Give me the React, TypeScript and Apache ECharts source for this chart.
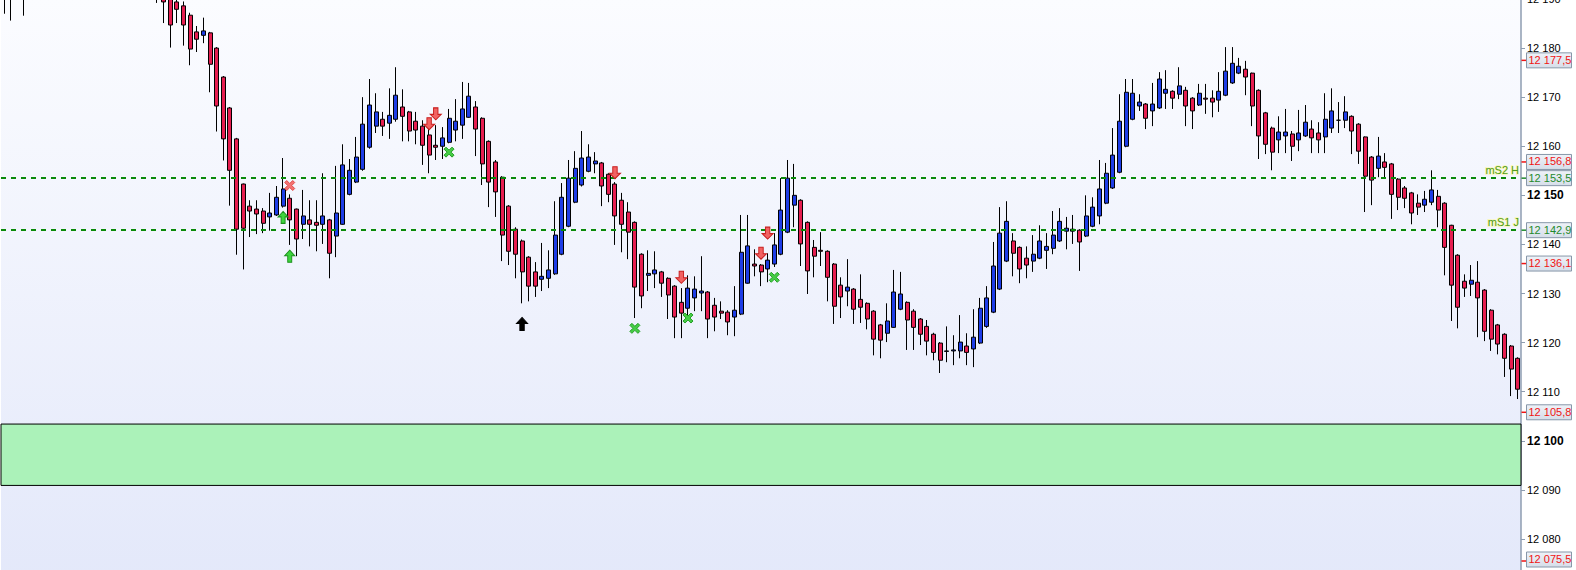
import React, { useEffect, useRef } from "react";
import * as echarts from "echarts";

// [open, close, low, high] per bar
const candleValues: number[][] = [
  [12196, 12199, 12187.0, 12204], [12199, 12194, 12185.6, 12203], [12194, 12198, 12191.5, 12202], [12198, 12195, 12186.6, 12201],
  [12195, 12200, 12192, 12205], [12200, 12204, 12196, 12208], [12204, 12207, 12200, 12211], [12207, 12203, 12199, 12210],
  [12203, 12206, 12199, 12209], [12206, 12210, 12203, 12214], [12210, 12208, 12204, 12213], [12208, 12212, 12205, 12216],
  [12212, 12209, 12205, 12215], [12209, 12206, 12202, 12212], [12206, 12208, 12203, 12211], [12208, 12204, 12200, 12210],
  [12204, 12201, 12197, 12207], [12201, 12203, 12198, 12206], [12203, 12199, 12196, 12205], [12199, 12200, 12195, 12203],
  [12200, 12197, 12193, 12202], [12197, 12198, 12194, 12201], [12198, 12195, 12191, 12200], [12195, 12193, 12189.2, 12197],
  [12192.5, 12189.4, 12185.1, 12195], [12190.8, 12184.7, 12180.1, 12193.5], [12189.4, 12187.9, 12185.1, 12191.5], [12188.6, 12184.7, 12180.5, 12189.5],
  [12186.7, 12179.8, 12176.5, 12187.2], [12183.3, 12181.8, 12179.2, 12184.5], [12182.6, 12183.5, 12181.0, 12186.2], [12183.1, 12176.7, 12171.0, 12183.3],
  [12180.0, 12168.2, 12163.0, 12180.2], [12174.1, 12161.5, 12157.1, 12174.3], [12167.8, 12155.1, 12147.9, 12168.0], [12161.5, 12143.1, 12137.9, 12161.7],
  [12152.3, 12143.3, 12134.9, 12152.4], [12147.8, 12146.8, 12141.5, 12149.0], [12147.2, 12146.2, 12142.1, 12149.0], [12146.8, 12144.3, 12142.3, 12147.4],
  [12145.6, 12146.4, 12142.8, 12150.5], [12146.0, 12149.6, 12145.8, 12151.9], [12147.8, 12151.3, 12147.5, 12157.6], [12149.4, 12145.0, 12139.9, 12150.2],
  [12147.2, 12141.1, 12137.6, 12147.3], [12144.1, 12145.8, 12141.1, 12151.1], [12145.0, 12144.1, 12139.6, 12149.0], [12144.5, 12143.9, 12138.6, 12149.0],
  [12144.1, 12145.8, 12140.1, 12154.5], [12145.0, 12138.2, 12133.1, 12145.2], [12141.7, 12146.4, 12137.4, 12156.0], [12144.1, 12156.2, 12144.0, 12160.4],
  [12150.2, 12155.1, 12150.0, 12157.4], [12152.7, 12157.8, 12152.5, 12161.9], [12155.3, 12164.5, 12155.0, 12170.0], [12159.8, 12168.4, 12159.5, 12173.7],
  [12164.1, 12167.0, 12162.7, 12170.8], [12165.5, 12164.1, 12162.1, 12167.0], [12164.7, 12166.3, 12161.5, 12171.8], [12165.5, 12170.4, 12165.0, 12176.1],
  [12168.0, 12166.1, 12161.0, 12171.6], [12167.0, 12163.1, 12161.0, 12167.2], [12165.1, 12163.3, 12160.4, 12167.0], [12164.1, 12160.2, 12156.2, 12165.3],
  [12162.3, 12158.2, 12154.5, 12164.3], [12160.2, 12159.8, 12157.2, 12164.3], [12160.0, 12161.7, 12157.4, 12163.9], [12160.8, 12165.7, 12160.6, 12167.6],
  [12163.3, 12165.1, 12161.0, 12169.6], [12164.3, 12167.6, 12161.5, 12173.1], [12165.9, 12170.2, 12165.8, 12172.9], [12168.0, 12163.5, 12158.0, 12169.2],
  [12165.7, 12156.4, 12152.1, 12165.9], [12161.0, 12152.7, 12147.6, 12161.2], [12156.8, 12150.7, 12145.6, 12157.2], [12153.7, 12141.9, 12136.6, 12153.9],
  [12147.8, 12138.6, 12135.8, 12148.0], [12143.1, 12138.0, 12133.1, 12143.5], [12140.7, 12134.4, 12128.0, 12141.0], [12137.4, 12131.5, 12128.4, 12137.6],
  [12134.4, 12131.5, 12129.3, 12136.4], [12132.9, 12133.5, 12130.5, 12140.3], [12133.1, 12134.8, 12131.1, 12138.8], [12134.0, 12141.9, 12133.8, 12148.8],
  [12138.0, 12149.6, 12137.8, 12152.5], [12143.7, 12153.5, 12143.5, 12157.2], [12148.6, 12155.5, 12148.4, 12159.0], [12152.1, 12157.6, 12151.8, 12163.1],
  [12154.9, 12157.8, 12154.7, 12160.4], [12156.4, 12157.0, 12154.5, 12158.8], [12156.6, 12151.9, 12147.8, 12156.8], [12154.3, 12150.2, 12148.6, 12154.5],
  [12152.3, 12145.8, 12139.9, 12152.7], [12149.0, 12144.1, 12138.4, 12150.5], [12146.6, 12142.5, 12137.0, 12148.6], [12144.5, 12131.3, 12125.0, 12144.7],
  [12138.0, 12129.5, 12127.0, 12138.2], [12133.7, 12134.1, 12130.5, 12138.8], [12134.0, 12134.8, 12131.1, 12138.6], [12134.4, 12132.1, 12129.3, 12134.6],
  [12133.1, 12129.7, 12124.8, 12133.3], [12131.5, 12125.2, 12120.9, 12131.7], [12128.2, 12126.0, 12120.9, 12131.1], [12127.0, 12131.1, 12125.0, 12133.7],
  [12129.1, 12130.9, 12126.4, 12133.5], [12130.1, 12130.5, 12126.4, 12137.6], [12130.3, 12124.8, 12120.9, 12130.5], [12127.6, 12125.2, 12122.3, 12129.1],
  [12126.4, 12126.0, 12124.8, 12128.4], [12126.2, 12124.2, 12121.5, 12126.6], [12125.2, 12126.6, 12121.3, 12131.5], [12125.8, 12138.4, 12125.6, 12146.0],
  [12132.1, 12139.7, 12132.0, 12146.0], [12136.0, 12135.6, 12133.5, 12139.0], [12135.8, 12134.4, 12131.5, 12136.0], [12135.0, 12136.8, 12132.3, 12138.2],
  [12136.0, 12139.9, 12135.4, 12142.3], [12138.0, 12147.0, 12137.8, 12153.5], [12142.5, 12153.5, 12142.3, 12157.2], [12148.0, 12150.0, 12143.5, 12156.4],
  [12149.0, 12140.1, 12135.6, 12149.2], [12144.5, 12134.6, 12129.9, 12144.7], [12139.4, 12137.6, 12133.3, 12140.9], [12138.8, 12138.6, 12135.6, 12142.5],
  [12138.6, 12133.3, 12128.4, 12138.8], [12136.0, 12127.4, 12123.8, 12136.2], [12131.7, 12129.3, 12125.0, 12133.3], [12130.5, 12131.3, 12127.4, 12137.0],
  [12130.9, 12126.8, 12123.8, 12131.1], [12128.8, 12127.2, 12124.0, 12133.9], [12128.0, 12124.8, 12122.7, 12128.2], [12126.4, 12120.7, 12117.4, 12126.6],
  [12123.6, 12120.5, 12116.8, 12123.8], [12121.9, 12124.4, 12120.1, 12128.0], [12123.1, 12130.3, 12123.0, 12134.8], [12126.8, 12129.9, 12126.6, 12134.4],
  [12128.2, 12124.6, 12118.5, 12128.4], [12126.4, 12123.1, 12118.5, 12126.8], [12124.8, 12121.7, 12119.5, 12125.0], [12123.3, 12120.3, 12117.4, 12124.6],
  [12121.7, 12118.0, 12116.4, 12122.0], [12119.9, 12116.4, 12113.8, 12120.1], [12118.2, 12118.3, 12116.0, 12123.3], [12118.3, 12118.5, 12115.4, 12121.5],
  [12118.3, 12120.1, 12116.8, 12125.6], [12119.3, 12118.0, 12115.4, 12121.9], [12118.7, 12121.1, 12115.0, 12126.8], [12119.9, 12127.0, 12119.7, 12129.1],
  [12123.3, 12129.1, 12123.0, 12131.5], [12126.2, 12135.6, 12126.0, 12140.5], [12130.9, 12142.3, 12130.7, 12147.6], [12136.6, 12144.7, 12136.4, 12148.8],
  [12140.7, 12138.2, 12133.5, 12142.3], [12139.4, 12135.0, 12132.1, 12139.6], [12137.2, 12135.8, 12133.1, 12139.6], [12136.6, 12138.0, 12134.4, 12141.9],
  [12137.2, 12140.7, 12137.0, 12143.9], [12138.8, 12139.6, 12135.0, 12142.3], [12139.2, 12141.9, 12138.0, 12146.8], [12140.7, 12144.7, 12140.5, 12147.4],
  [12142.7, 12143.3, 12139.0, 12145.6], [12142.7, 12143.1, 12140.1, 12146.0], [12142.9, 12140.5, 12134.6, 12143.1], [12141.7, 12145.8, 12141.5, 12150.0],
  [12143.7, 12147.6, 12143.5, 12149.6], [12145.8, 12151.3, 12144.1, 12157.2], [12148.4, 12154.5, 12148.2, 12156.6], [12151.5, 12158.2, 12151.3, 12163.7],
  [12154.7, 12165.1, 12154.5, 12170.6], [12160.0, 12171.0, 12159.8, 12173.7], [12165.5, 12170.8, 12165.3, 12173.7], [12168.2, 12169.0, 12167.2, 12170.6],
  [12168.6, 12165.7, 12163.5, 12168.8], [12167.2, 12168.6, 12164.1, 12172.9], [12167.8, 12173.7, 12167.6, 12175.1], [12170.8, 12171.6, 12167.6, 12175.5],
  [12171.2, 12169.8, 12167.6, 12171.4], [12170.6, 12172.3, 12169.6, 12176.1], [12171.4, 12168.2, 12164.1, 12172.1], [12169.8, 12167.2, 12163.5, 12170.0],
  [12168.4, 12170.8, 12168.2, 12172.7], [12169.8, 12169.6, 12166.6, 12172.7], [12169.8, 12169.0, 12165.9, 12171.4], [12169.4, 12171.2, 12167.0, 12175.1],
  [12170.4, 12175.3, 12170.2, 12180.2], [12172.9, 12176.9, 12172.7, 12180.2], [12174.9, 12176.3, 12174.7, 12178.0], [12175.7, 12174.1, 12170.4, 12177.4],
  [12174.9, 12168.2, 12164.1, 12175.0], [12171.4, 12162.1, 12157.4, 12171.6], [12166.8, 12160.4, 12158.4, 12167.0], [12163.7, 12158.8, 12155.1, 12164.0],
  [12161.3, 12162.9, 12158.6, 12166.1], [12162.1, 12162.9, 12158.6, 12167.6], [12162.5, 12160.0, 12157.0, 12163.1], [12161.3, 12162.7, 12159.0, 12167.4],
  [12162.1, 12164.9, 12161.9, 12168.4], [12163.5, 12161.7, 12158.6, 12165.3], [12162.7, 12161.3, 12158.6, 12164.9], [12161.9, 12165.5, 12158.6, 12170.8],
  [12163.7, 12167.2, 12162.7, 12171.8], [12165.3, 12165.3, 12162.7, 12169.0], [12165.3, 12167.0, 12163.7, 12170.2], [12166.1, 12163.1, 12158.4, 12166.3],
  [12164.5, 12159.0, 12156.4, 12164.7], [12161.9, 12153.9, 12146.6, 12162.0], [12157.8, 12153.1, 12148.0, 12158.0], [12155.5, 12158.0, 12153.7, 12161.9],
  [12156.8, 12155.7, 12153.7, 12158.6], [12156.4, 12150.2, 12145.2, 12156.6], [12153.3, 12149.6, 12147.0, 12153.5], [12151.5, 12149.4, 12147.4, 12151.9],
  [12150.5, 12146.4, 12144.1, 12150.7], [12148.4, 12147.6, 12146.0, 12150.2], [12148.0, 12149.2, 12146.6, 12150.9], [12148.6, 12151.1, 12148.0, 12155.1],
  [12149.8, 12147.0, 12143.5, 12151.1], [12148.4, 12139.4, 12133.7, 12148.6], [12143.9, 12131.7, 12124.4, 12144.0], [12137.8, 12127.2, 12122.9, 12138.0],
  [12132.5, 12131.1, 12129.3, 12133.9], [12131.9, 12132.7, 12129.5, 12135.8], [12132.3, 12129.1, 12121.1, 12136.6], [12130.7, 12122.3, 12120.3, 12130.9],
  [12126.6, 12120.7, 12118.3, 12126.8], [12123.6, 12119.7, 12117.6, 12123.8], [12121.7, 12116.8, 12113.0, 12121.9], [12119.3, 12114.6, 12109.1, 12119.5],
  [12116.8, 12110.5, 12108.5, 12117.0],
];

const categories: string[] = candleValues.map((_, i) => String(i + 1));

// horizontal levels
const levelLines = [
  { name: "mS2 H", value: 12153.5 },
  { name: "mS1 J", value: 12142.9 },
];
const zoneBand = [12103.4, 12090.9];

// price tags on the right axis
const priceTags = [
  { value: 12177.5, color: "#f01414" },
  { value: 12156.8, color: "#f01414" },
  { value: 12153.5, color: "#1f8a2c" },
  { value: 12142.9, color: "#1f8a2c" },
  { value: 12136.1, color: "#f01414" },
  { value: 12105.8, color: "#f01414" },
  { value: 12075.5, color: "#f01414" },
];

// signal markers [barIndex, price]
const greenUpArrows = [[42, 12145.5], [43, 12137.6]];
const blackUpArrows = [[78, 12123.8]];
const redDownArrows = [[64, 12164.6], [65, 12166.6], [92, 12154.6], [102, 12133.3], [114, 12138.2], [115, 12142.3]];
const redCrosses = [[43, 12152.0]];
const greenCrosses = [[67, 12158.8], [95, 12122.9], [103, 12125.0], [116, 12133.3]];

const yMin = 12070;
const yMax = 12190;
const yStep = 10;

const UP_ARROW = "path://M5,0 L10,5.5 L7,5.5 L7,12 L3,12 L3,5.5 L0,5.5 Z";
const DOWN_ARROW = "path://M3,0 L7,0 L7,6.5 L10,6.5 L5,12 L0,6.5 L3,6.5 Z";
const CROSS = "path://M2,0 L5,3 L8,0 L10,2 L7,5 L10,8 L8,10 L5,7 L2,10 L0,8 L3,5 L0,2 Z";

const FONT = "'Liberation Sans', Arial, sans-serif";

function fmtPrice(v: number, decimals: number): string {
  const s = v.toFixed(decimals).replace(".", ",");
  const [intPart, dec] = s.split(",");
  const withSpace = intPart.replace(/\B(?=(\d{3})+(?!\d))/g, " ");
  return dec !== undefined ? `${withSpace},${dec}` : withSpace;
}

export default function App() {
  const ref = useRef<HTMLDivElement>(null);

  useEffect(() => {
    if (!ref.current) return;
    const chart = echarts.init(ref.current, undefined, { renderer: "svg" });

    const markerSeries = (name: string, data: number[][], symbol: string, size: number[], fill: string, stroke: string) => ({
      name,
      type: "scatter" as const,
      data,
      symbol,
      symbolSize: size,
      z: 5,
      itemStyle: { color: fill, borderColor: stroke, borderWidth: 1, opacity: 1 },
      emphasis: { disabled: true },
    });

    chart.setOption({
      animation: false,
      backgroundColor: "#ffffff",
      grid: {
        left: 1,
        right: 55,
        top: 0,
        bottom: 0,
        containLabel: false,
        outerBoundsMode: "none",
        show: true,
        borderWidth: 0,
        backgroundColor: new echarts.graphic.LinearGradient(0, 0, 0, 1, [
          { offset: 0, color: "#fbfcff" },
          { offset: 1, color: "#e3e8fa" },
        ]),
      },
      xAxis: {
        type: "category",
        data: categories,
        boundaryGap: true,
        axisLine: { show: false },
        axisTick: { show: false },
        axisLabel: { show: false },
        splitLine: { show: false },
      },
      yAxis: {
        type: "value",
        position: "right",
        min: yMin,
        max: yMax,
        interval: yStep,
        splitLine: { show: false },
        axisLine: { show: true, lineStyle: { color: "#8e9db0", width: 1.5 } },
        axisTick: { show: true, length: 4, lineStyle: { color: "#8e9db0" } },
        axisLabel: {
          margin: 6,
          color: "#000",
          fontSize: 11,
          fontFamily: FONT,
          showMinLabel: false,
          formatter: (v: number) => (v % 50 === 0 ? `{b|${fmtPrice(v, 0)}}` : fmtPrice(v, 0)),
          rich: { b: { fontWeight: "bold", fontSize: 12, fontFamily: FONT, color: "#000" } },
        },
      },
      series: [
        {
          name: "price",
          type: "candlestick",
          data: candleValues,
          barWidth: 4.5,
          clip: true,
          itemStyle: {
            color: "#1e3de6",
            color0: "#e61e50",
            borderColor: "#000000",
            borderColor0: "#000000",
            borderColorDoji: "#000000",
            borderWidth: 1,
          },
          emphasis: { disabled: true },
          markLine: {
            silent: true,
            symbol: ["none", "none"],
            animation: false,
            lineStyle: { color: "#0a8a0a", type: [5, 5], width: 2 },
            label: {
              show: true,
              position: "insideEndTop",
              distance: [2, 3],
              color: "#4e9a22",
              fontSize: 11,
              fontFamily: FONT,
              textBorderColor: "#fbf8b0",
              textBorderWidth: 1.5,
              formatter: (p: any) => p.name,
            },
            data: levelLines.map((l) => ({ name: l.name, yAxis: l.value })),
          },
          markArea: {
            silent: true,
            itemStyle: { color: "#abf2b9", borderColor: "#000000", borderWidth: 1 },
            data: [[{ yAxis: zoneBand[0] }, { yAxis: zoneBand[1] }]],
          },
        },
        markerSeries("greenUp", greenUpArrows, UP_ARROW, [10, 12], "#3ed43e", "#1b901b"),
        markerSeries("blackUp", blackUpArrows, UP_ARROW, [11, 13], "#000000", "#000000"),
        markerSeries("redDown", redDownArrows, DOWN_ARROW, [11, 12], "#f26262", "#c81e1e"),
        markerSeries("redX", redCrosses, CROSS, [10, 10], "#f37373", "#e24a4a"),
        markerSeries("greenX", greenCrosses, CROSS, [10, 10], "#46cc46", "#24a024"),
      ],
    });

    const tagX = 1526.5;
    // the chart div starts 1px above the page; keep tags inside the visible 570px
    const maxTagCenter = 560.5;
    const graphics: any[] = [];
    priceTags.forEach((t) => {
      const y = chart.convertToPixel({ yAxisIndex: 0 }, t.value) as number;
      const yc = Math.min(y, maxTagCenter);
      graphics.push({
        type: "line",
        silent: true,
        shape: { x1: 1521.5, y1: y, x2: tagX, y2: y },
        style: { stroke: t.color, lineWidth: 1.5 },
        z: 10,
      });
      graphics.push({
        type: "rect",
        silent: true,
        shape: { x: tagX, y: yc - 7.5, width: 45, height: 15 },
        style: {
          fill: new echarts.graphic.LinearGradient(0, 0, 0, 1, [
            { offset: 0, color: "#eef2f8" },
            { offset: 1, color: "#d6dee9" },
          ]),
          stroke: "#8797a9",
          lineWidth: 1,
        },
        z: 10,
      });
      graphics.push({
        type: "text",
        silent: true,
        x: tagX + 2,
        y: yc - 0.5,
        style: {
          text: fmtPrice(t.value, 1),
          fill: t.color,
          font: `11px ${FONT}`,
          textVerticalAlign: "middle",
          textAlign: "left",
        },
        z: 11,
      });
    });
    chart.setOption({ graphic: graphics });

    return () => chart.dispose();
  }, []);

  return (
    <div
      style={{ position: "fixed", left: 0, top: 0, width: 1576, height: 570, overflow: "hidden", background: "#ffffff" }}
    >
      <div ref={ref} style={{ position: "absolute", left: 0, top: -1, width: 1576, height: 589 }} />
    </div>
  );
}
